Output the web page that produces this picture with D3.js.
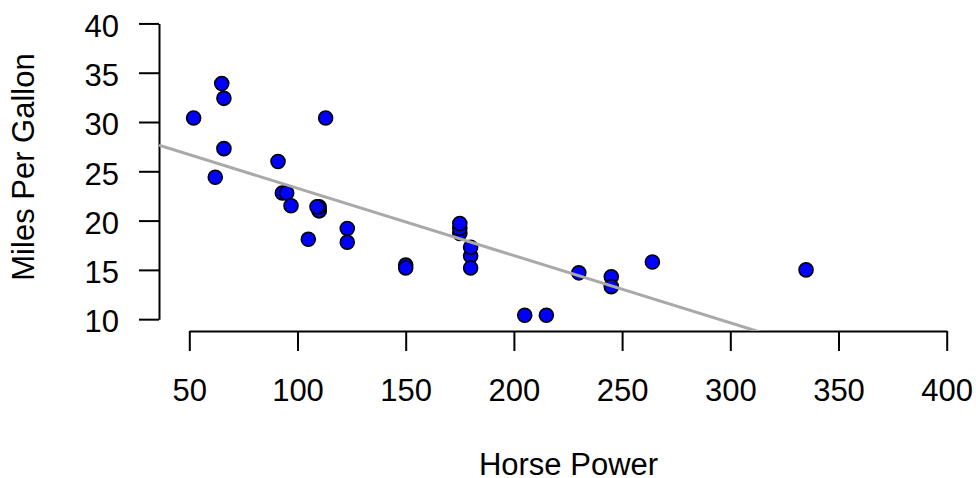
<!DOCTYPE html>
<html>
<head>
<meta charset="utf-8">
<script src="https://cdn.jsdelivr.net/npm/d3@7"></script>
<style>
  body { margin: 0; background: #fff; }
  svg { display: block; font-family: "Liberation Sans", Arial, sans-serif; }
</style>
</head>
<body>
<script>
// mtcars: horse power vs miles per gallon
const horsePower = [110, 110, 93, 110, 175, 105, 245, 62, 95, 123, 123, 180, 180, 180, 205, 215,
                    230, 66, 52, 65, 97, 150, 150, 245, 175, 66, 91, 113, 264, 175, 335, 109];
const milesPerGallon = [21.0, 21.0, 22.8, 21.4, 18.7, 18.1, 14.3, 24.4, 22.8, 19.2, 17.8, 16.4, 17.3, 15.2, 10.4, 10.4,
                        14.7, 32.4, 30.4, 33.9, 21.5, 15.5, 15.2, 13.3, 19.2, 27.3, 26.0, 30.4, 15.8, 19.7, 15.0, 21.4];
const xTicks = [50, 100, 150, 200, 250, 300, 350, 400];
const yTicks = [10, 15, 20, 25, 30, 35, 40];

let width = 976, height = 478;
let plot = {left: 159, right: 977, top: 11.6, bottom: 331};
let svg, x, y;

appendSvg("body");
setupScales();
appendXAxis();
appendYAxis();
appendPoints();
appendFitLine();
appendLabels();

function appendSvg(domElement) {
  svg = d3.select(domElement).append("svg")
    .attr("width", width)
    .attr("height", height);
}

// R style: limits widened by 4% on each side
function setupScales() {
  x = d3.scaleLinear().domain([36, 414]).range([plot.left, plot.right]);
  y = d3.scaleLinear().domain([8.8, 41.2]).range([plot.bottom, plot.top]);
}

function appendXAxis() {
  const ext = d3.extent(xTicks);
  const axisScale = x.copy().domain(ext).range(ext.map(x));
  const g = svg.append("g")
    .attr("transform", `translate(0, ${plot.bottom})`)
    .call(d3.axisBottom(axisScale).tickValues(xTicks).tickSize(20).tickSizeOuter(0));
  g.selectAll("path, line").attr("stroke", "#000").attr("stroke-width", 2);
  g.selectAll("text")
    .attr("y", 70).attr("dy", 0)
    .attr("font-size", 31).attr("font-family", null).attr("fill", "#000");
}

function appendYAxis() {
  const ext = d3.extent(yTicks);
  const axisScale = y.copy().domain(ext).range(ext.map(y));
  const g = svg.append("g")
    .attr("transform", `translate(${plot.left}, 0)`)
    .call(d3.axisLeft(axisScale).tickValues(yTicks).tickSize(20).tickSizeOuter(0));
  g.selectAll("path, line").attr("stroke", "#000").attr("stroke-width", 2);
  g.selectAll("text")
    .attr("x", -40).attr("dy", "0.41em")
    .attr("font-size", 31).attr("font-family", null).attr("fill", "#000");
}

function appendPoints() {
  svg.append("g")
    .selectAll("circle")
    .data(horsePower)
    .enter()
    .append("circle")
      .attr("cx", d => x(d))
      .attr("cy", (d, i) => y(milesPerGallon[i]))
      .attr("r", 7)
      .attr("fill", "#0000ff")
      .attr("stroke", "#000")
      .attr("stroke-width", 1.6);
}

// least squares fit, like abline(lm(mpg ~ hp))
function appendFitLine() {
  const mx = d3.mean(horsePower), my = d3.mean(milesPerGallon);
  const slope = d3.sum(horsePower, (d, i) => (d - mx) * (milesPerGallon[i] - my)) /
                d3.sum(horsePower, d => (d - mx) * (d - mx));
  const intercept = my - slope * mx;

  svg.append("clipPath").attr("id", "plotClip")
    .append("rect")
      .attr("x", plot.left).attr("y", plot.top)
      .attr("width", plot.right - plot.left).attr("height", plot.bottom - plot.top);

  const xd = x.domain();
  svg.append("line")
    .attr("clip-path", "url(#plotClip)")
    .attr("x1", x(xd[0])).attr("y1", y(intercept + slope * xd[0]))
    .attr("x2", x(xd[1])).attr("y2", y(intercept + slope * xd[1]))
    .attr("stroke", "#a9a9a9")
    .attr("stroke-width", 3);
}

function appendLabels() {
  svg.append("text")
    .attr("x", 568.5).attr("y", 475)
    .attr("text-anchor", "middle")
    .attr("font-size", 31)
    .text("Horse Power");

  svg.append("text")
    .attr("transform", "translate(33.5, 167) rotate(-90)")
    .attr("text-anchor", "middle")
    .attr("font-size", 31)
    .text("Miles Per Gallon");
}
</script>
</body>
</html>
